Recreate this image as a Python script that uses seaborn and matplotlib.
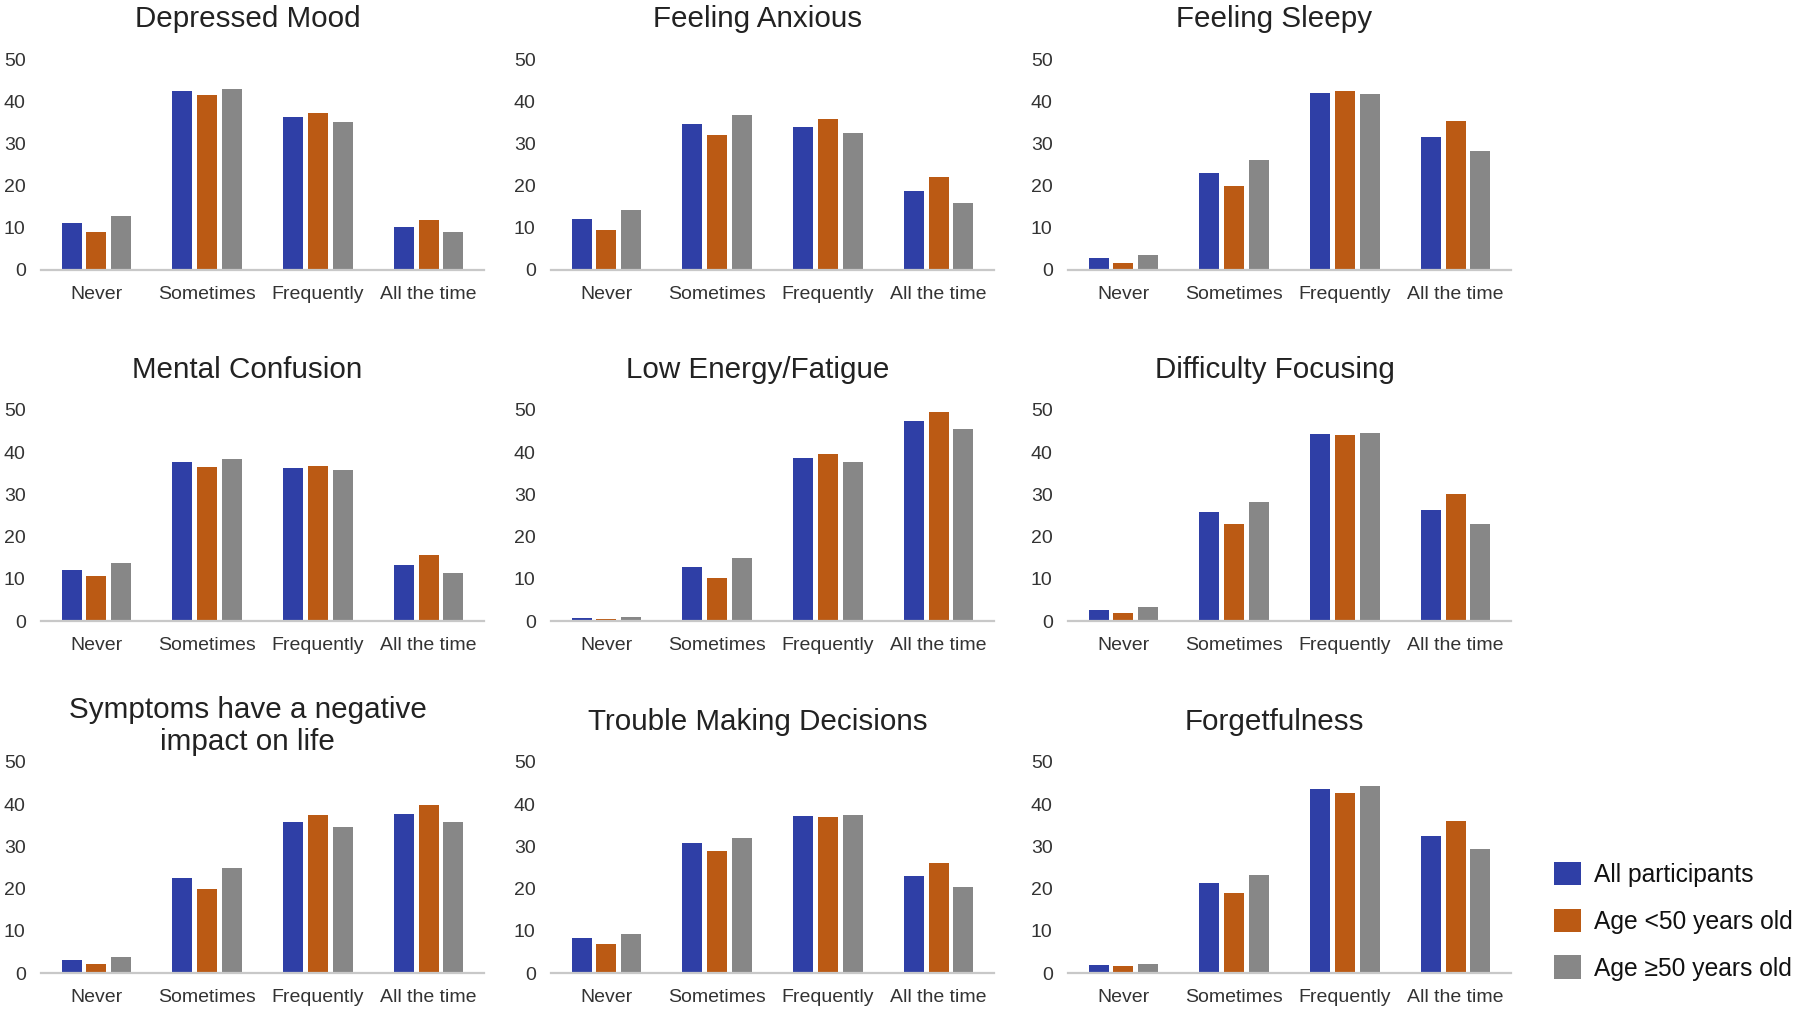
import matplotlib
matplotlib.use("Agg")
import matplotlib.pyplot as plt
import seaborn as sns
import pandas as pd
from matplotlib.patches import Patch

sns.set_style("white")
plt.rcParams['font.family'] = ['Liberation Sans', 'DejaVu Sans']

categories = ["Never", "Sometimes", "Frequently", "All the time"]
groups = ["All participants", "Age <50 years old", "Age \u226550 years old"]
colors = ["#2f3fa6", "#bb5a14", "#878787"]

titles = ["Depressed Mood", "Feeling Anxious", "Feeling Sleepy",
          "Mental Confusion", "Low Energy/Fatigue", "Difficulty Focusing",
          "Symptoms have a negative\nimpact on life", "Trouble Making Decisions", "Forgetfulness"]

depressed_all = [11.1, 42.3, 36.2, 10.2]
depressed_lt50 = [8.9, 41.5, 37.3, 11.9]
depressed_ge50 = [12.7, 43.0, 35.0, 8.9]

anxious_all = [12.0, 34.5, 33.9, 18.7]
anxious_lt50 = [9.4, 32.1, 35.7, 22.1]
anxious_ge50 = [14.3, 36.8, 32.4, 15.9]

sleepy_all = [2.8, 23.1, 41.9, 31.4]
sleepy_lt50 = [1.7, 19.9, 42.3, 35.4]
sleepy_ge50 = [3.5, 26.1, 41.7, 28.1]

confusion_all = [12.2, 37.6, 36.3, 13.3]
confusion_lt50 = [10.7, 36.6, 36.7, 15.6]
confusion_ge50 = [13.8, 38.5, 35.9, 11.4]

fatigue_all = [0.7, 12.7, 38.6, 47.5]
fatigue_lt50 = [0.4, 10.2, 39.6, 49.5]
fatigue_ge50 = [0.9, 15.0, 37.7, 45.6]

focus_all = [2.5, 25.8, 44.3, 26.3]
focus_lt50 = [1.8, 22.9, 44.0, 30.2]
focus_ge50 = [3.2, 28.2, 44.6, 22.9]

impact_all = [3.0, 22.6, 35.9, 37.6]
impact_lt50 = [2.1, 19.8, 37.5, 39.9]
impact_ge50 = [3.9, 24.8, 34.6, 35.9]

decisions_all = [8.2, 30.7, 37.1, 23.0]
decisions_lt50 = [6.8, 29.0, 36.9, 26.1]
decisions_ge50 = [9.2, 32.1, 37.4, 20.3]

forget_all = [1.9, 21.3, 43.6, 32.4]
forget_lt50 = [1.6, 18.9, 42.6, 36.1]
forget_ge50 = [2.1, 23.3, 44.4, 29.3]

yticks = [0, 10, 20, 30, 40, 50]

panels = [
    (depressed_all, depressed_lt50, depressed_ge50),
    (anxious_all, anxious_lt50, anxious_ge50),
    (sleepy_all, sleepy_lt50, sleepy_ge50),
    (confusion_all, confusion_lt50, confusion_ge50),
    (fatigue_all, fatigue_lt50, fatigue_ge50),
    (focus_all, focus_lt50, focus_ge50),
    (impact_all, impact_lt50, impact_ge50),
    (decisions_all, decisions_lt50, decisions_ge50),
    (forget_all, forget_lt50, forget_ge50),
]

W, H = 1800, 1011
fig = plt.figure(figsize=(18, 10.11), dpi=100)

col_left = [41, 551, 1068]
row_base = [270, 621, 973]
ax_w = 443
ax_h = 211

text_col = "#222222"
tick_col = "#333333"

for i, (vals, title) in enumerate(zip(panels, titles)):
    r, c = divmod(i, 3)
    left = col_left[c] / W
    bottom = 1 - row_base[r] / H
    ax = fig.add_axes([left, bottom, ax_w / W, ax_h / H])
    rows = []
    for g, series in zip(groups, vals):
        for cat, v in zip(categories, series):
            rows.append({"category": cat, "group": g, "value": v})
    df = pd.DataFrame(rows)
    sns.barplot(data=df, x="category", y="value", hue="group", order=categories,
                hue_order=groups, palette=colors, saturation=1, width=0.67, gap=0.2,
                errorbar=None, legend=False, ax=ax, linewidth=0)
    ax.set_xlim(-0.5, 3.5)
    ax.set_ylim(0, 50)
    ax.set_yticks(yticks)
    ax.set_yticklabels([str(t) for t in yticks])
    ax.set_xlabel("")
    ax.set_ylabel("")
    for s in ["top", "right", "left"]:
        ax.spines[s].set_visible(False)
    ax.spines["bottom"].set_color("#c8c8c8")
    ax.spines["bottom"].set_linewidth(1.6)
    ax.tick_params(axis="y", length=0, pad=11, labelsize=14, labelcolor=tick_col)
    ax.tick_params(axis="x", length=0, pad=11.5, labelsize=14, labelcolor=tick_col)
    pad = 9 if "\n" in title else 23
    ax.set_title(title, fontsize=21.3, color=text_col, pad=pad, x=0.466,
                 linespacing=1.15)

handles = [Patch(facecolor=col, edgecolor="none") for col in colors]
fig.legend(handles, groups, loc="upper left", bbox_to_anchor=(1544 / W, 1 - 852 / H),
           frameon=False, fontsize=17.7, handlelength=1.1, handleheight=1.1,
           handletextpad=0.55, labelspacing=0.88, labelcolor="#111111", borderaxespad=0)

fig.savefig("out.png", dpi=100, facecolor="white")
